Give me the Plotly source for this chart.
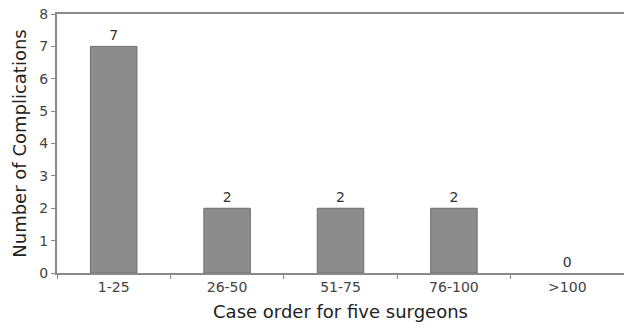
import plotly.graph_objects as go

categories = ["1-25", "26-50", "51-75", "76-100", ">100"]
complications = [7, 2, 2, 2, 0]

fig = go.Figure(go.Bar(
    x=categories,
    y=complications,
    text=[str(v) for v in complications],
    textposition="outside",
    textfont=dict(size=14, color="#333333"),
    cliponaxis=False,
    marker=dict(color="#8c8c8c",
                line=dict(color="#6e6e6e", width=[1 if v > 0 else 0 for v in complications])),
    width=0.41,
))

fig.update_layout(
    width=624, height=329,
    margin=dict(l=57, r=0, t=14, b=56),
    paper_bgcolor="white", plot_bgcolor="white",
    font=dict(family="DejaVu Sans, Liberation Sans, sans-serif", color="#333333"),
    showlegend=False,
    xaxis=dict(
        automargin=False,
        showline=True, linecolor="#8a8a8a", linewidth=2, mirror=True,
        ticks="outside", tickson="boundaries", ticklen=4, tickcolor="#8a8a8a",
        tickfont=dict(size=14, color="#444444"),
        title=dict(text="Case order for five surgeons", font=dict(size=18, color="#222222"), standoff=12),
        showgrid=False,
    ),
    yaxis=dict(
        automargin=False,
        range=[0, 8], dtick=1,
        showline=True, linecolor="#8a8a8a", linewidth=2,
        ticks="outside", ticklen=4, tickcolor="#8a8a8a",
        tickfont=dict(size=14, color="#444444"),
        title=dict(text="Number of Complications", font=dict(size=18, color="#222222"), standoff=8),
        showgrid=False, zeroline=False,
    ),
)

# remove the browser's default 8px body margin so the figure fills the window
fig.write_html("out.html", config={"displayModeBar": False},
               post_script="document.body.style.margin='0';")
